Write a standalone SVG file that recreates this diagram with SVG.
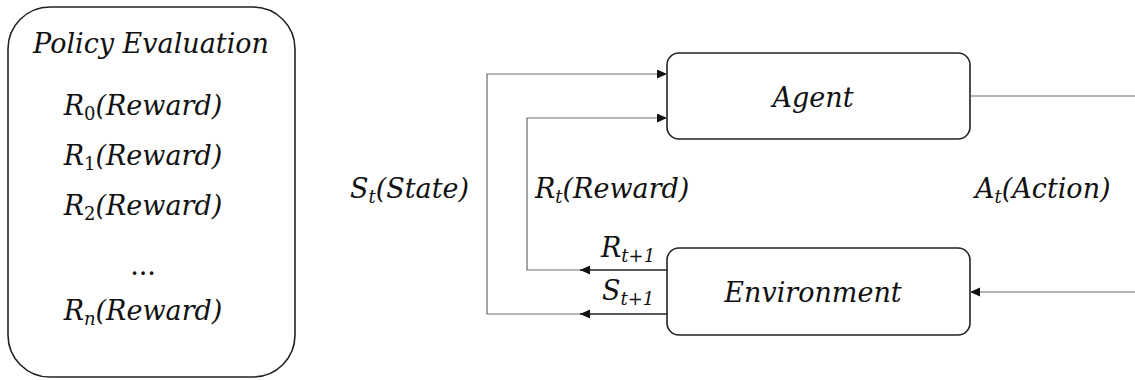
<svg xmlns="http://www.w3.org/2000/svg" width="1135" height="380" viewBox="0 0 1135 380">
  <style>
    .t { font-family: "DejaVu Serif", "Liberation Serif", serif; font-style: italic; font-size: 27px; fill: #111; }
    .sub { font-size: 18px; }
    .up { font-style: normal; }
    .box { fill: #fff; stroke: #222; stroke-width: 1.6; }
    .thin { fill: none; stroke: #6a6a6a; stroke-width: 1.2; }
    .dark { fill: none; stroke: #222; stroke-width: 1.6; }
  </style>
  <defs>
    <marker id="arr" markerUnits="userSpaceOnUse" markerWidth="10" markerHeight="10" refX="10" refY="4.5" orient="auto">
      <path d="M0,0 L10,4.5 L0,9 z" fill="#111"/>
    </marker>
  </defs>
  <rect width="1135" height="380" fill="#fff"/>

  <g id="policy-evaluation">
    <rect class="box" x="8" y="7" width="287" height="370" rx="42" ry="42" stroke-width="2"/>
    <text class="t" x="151" y="53" text-anchor="middle">Policy Evaluation</text>
    <text class="t" x="143" y="115" text-anchor="middle">R<tspan class="sub up" dy="5">0</tspan><tspan dy="-5">(Reward)</tspan></text>
    <text class="t" x="143" y="165" text-anchor="middle">R<tspan class="sub up" dy="5">1</tspan><tspan dy="-5">(Reward)</tspan></text>
    <text class="t" x="143" y="215" text-anchor="middle">R<tspan class="sub up" dy="5">2</tspan><tspan dy="-5">(Reward)</tspan></text>
    <text class="t up" x="143" y="275" text-anchor="middle">...</text>
    <text class="t" x="143" y="320" text-anchor="middle">R<tspan class="sub" dy="5">n</tspan><tspan dy="-5">(Reward)</tspan></text>
  </g>

  <g id="agent">
    <rect class="box" x="667" y="53" width="303" height="86" rx="12" ry="12"/>
    <text class="t" x="813" y="107" text-anchor="middle">Agent</text>
  </g>

  <g id="environment">
    <rect class="box" x="667" y="248" width="303" height="87" rx="12" ry="12"/>
    <text class="t" x="813" y="302" text-anchor="middle">Environment</text>
  </g>

  <g id="connectors">
    <polyline class="thin" points="580,314 487,314 487,74 667,74" marker-end="url(#arr)"/>
    <polyline class="thin" points="580,270 527,270 527,118 667,118" marker-end="url(#arr)"/>
    <line class="dark" x1="667" y1="314" x2="580" y2="314" marker-end="url(#arr)"/>
    <line class="dark" x1="667" y1="270" x2="580" y2="270" marker-end="url(#arr)"/>
    <line class="thin" x1="970" y1="96" x2="1135" y2="96"/>
    <line class="thin" x1="1135" y1="292" x2="970" y2="292" marker-end="url(#arr)"/>
  </g>

  <g id="labels">
    <text class="t" x="350" y="198">S<tspan class="sub" dy="5">t</tspan><tspan dy="-5">(State)</tspan></text>
    <text class="t" x="535" y="198">R<tspan class="sub" dy="5">t</tspan><tspan dy="-5">(Reward)</tspan></text>
    <text class="t" x="975" y="198">A<tspan class="sub" dy="5">t</tspan><tspan dy="-5">(Action)</tspan></text>
    <text class="t" x="601" y="257">R<tspan class="sub" dy="5">t+1</tspan></text>
    <text class="t" x="602" y="300">S<tspan class="sub" dy="5">t+1</tspan></text>
  </g>
</svg>
